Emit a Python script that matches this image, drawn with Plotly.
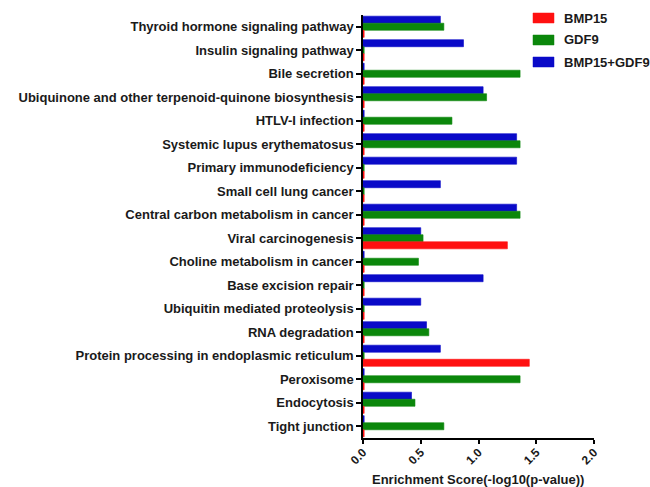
import plotly.graph_objects as go

# KEGG pathways, listed top to bottom
pathways = [
    "Thyroid hormone signaling pathway",
    "Insulin signaling pathway",
    "Bile secretion",
    "Ubiquinone and other terpenoid-quinone biosynthesis",
    "HTLV-I infection",
    "Systemic lupus erythematosus",
    "Primary immunodeficiency",
    "Small cell lung cancer",
    "Central carbon metabolism in cancer",
    "Viral carcinogenesis",
    "Choline metabolism in cancer",
    "Base excision repair",
    "Ubiquitin mediated proteolysis",
    "RNA degradation",
    "Protein processing in endoplasmic reticulum",
    "Peroxisome",
    "Endocytosis",
    "Tight junction",
]

# Enrichment score, -log10(p-value)
bmp15 = [0.01, 0.01, 0.01, 0.01, 0.01, 0.01, 0.01, 0.01, 0.01,
         1.25, 0.01, 0.01, 0.01, 0.01, 1.44, 0.01, 0.01, 0.01]
gdf9 = [0.70, 0.01, 1.36, 1.07, 0.77, 1.36, 0.01, 0.01, 1.36,
        0.52, 0.48, 0.01, 0.01, 0.57, 0.01, 1.36, 0.45, 0.70]
bmp15_gdf9 = [0.67, 0.87, 0.01, 1.04, 0.01, 1.33, 1.33, 0.67, 1.33,
              0.50, 0.01, 1.04, 0.50, 0.55, 0.67, 0.01, 0.42, 0.01]

x_ticks = [0.0, 0.5, 1.0, 1.5, 2.0]
series = [
    ("BMP15+GDF9", bmp15_gdf9, "#0A0AC8"),
    ("GDF9", gdf9, "#0B870B"),
    ("BMP15", bmp15, "#FF1010"),
]

fig = go.Figure()
for name, vals, color in series:
    fig.add_trace(go.Bar(
        y=pathways, x=vals, name=name, orientation="h",
        marker=dict(color=color, line=dict(color=color, width=0.6)),
        showlegend=False,
    ))

font_family = "Liberation Sans, Arial, sans-serif"
text_color = "#1a1a1a"

# Legend drawn as swatches + labels in the top-right corner
legend_items = [("BMP15", "#FF1010"), ("GDF9", "#0B870B"), ("BMP15+GDF9", "#0A0AC8")]
shapes = []
annotations = []
plot_left, plot_right, plot_top, plot_bottom = 363, 594, 15, 438
W, H = plot_right - plot_left, plot_bottom - plot_top
def px_to_paper(px, py):
    return (px - plot_left) / W, 1 - (py - plot_top) / H
for i, (label, color) in enumerate(legend_items):
    cy = 18 + i * 22
    x0, y0 = px_to_paper(533, cy - 5)
    x1, y1 = px_to_paper(554, cy + 5)
    shapes.append(dict(type="rect", xref="paper", yref="paper",
                       x0=x0, x1=x1, y0=y1, y1=y0,
                       fillcolor=color, line=dict(color=color, width=0.5)))
    tx, ty = px_to_paper(562, cy)
    annotations.append(dict(xref="paper", yref="paper", x=tx, y=ty,
                            xanchor="left", yanchor="middle", showarrow=False,
                            text=f"<b>{label}</b>",
                            font=dict(family=font_family, size=13, color=text_color)))

# x-axis title placed below the rotated tick labels
tx, ty = px_to_paper(478, 480)
annotations.append(dict(xref="paper", yref="paper", x=tx, y=ty,
                        xanchor="center", yanchor="middle", showarrow=False,
                        text="<b>Enrichment Score(-log10(p-value))</b>",
                        font=dict(family=font_family, size=13, color=text_color)))

fig.update_layout(
    width=650, height=487,
    margin=dict(l=plot_left, r=650 - plot_right, t=plot_top, b=487 - plot_bottom),
    paper_bgcolor="white", plot_bgcolor="white",
    barmode="group", bargap=0.1, bargroupgap=0.0,
    font=dict(family=font_family, color=text_color),
    shapes=shapes, annotations=annotations,
    xaxis=dict(
        range=[0, 2.0], tickvals=x_ticks, ticktext=[f"<b>{v:.1f}</b>" for v in x_ticks],
        tickangle=-45, ticks="outside", ticklen=4, tickwidth=1.5, tickcolor="black",
        ticklabelstandoff=-3,
        showline=True, linecolor="black", linewidth=1.5, showgrid=False, zeroline=False,
        tickfont=dict(size=12, family=font_family, color=text_color),
        automargin=False,
    ),
    yaxis=dict(
        autorange="reversed", ticks="outside", ticklen=5, tickwidth=1.5, tickcolor="black",
        showline=True, linecolor="black", linewidth=1.5, showgrid=False,
        tickfont=dict(size=13, family=font_family, color=text_color),
        tickvals=pathways, ticktext=[f"<b>{p}</b>" for p in pathways],
        automargin=False,
    ),
)

fig.write_html("out.html")
